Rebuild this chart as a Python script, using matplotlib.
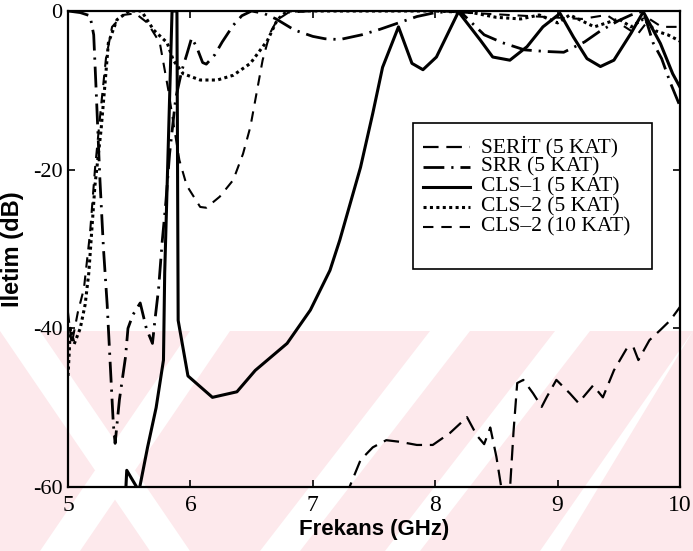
import numpy as np
import matplotlib
matplotlib.use("Agg")
from matplotlib import pyplot as plt
from matplotlib.patches import Rectangle, Polygon

# frequency (GHz) / transmission (dB) samples per structure
serit_f = [7.20, 7.30, 7.39, 7.49, 7.60, 7.71, 7.85, 7.98, 8.12, 8.26, 8.34, 8.40, 8.45,
           8.50, 8.56, 8.60, 8.62, 8.64, 8.67, 8.72, 8.80, 8.87, 8.91, 8.99, 9.10,
           9.17, 9.29, 9.37, 9.46, 9.57, 9.62, 9.66, 9.75, 9.84, 9.92, 10.0]
serit_db = [-64.0, -60.0, -56.6, -55.0, -54.1, -54.3, -54.7, -54.7, -53.2, -51.2, -53.5,
            -54.6, -52.5, -56.2, -62.0, -63.0, -58.0, -53.0, -46.9, -46.5, -48.2, -49.9,
            -48.7, -46.5, -48.2, -49.4, -47.2, -48.7, -45.3, -42.4, -42.4, -44.0, -41.5,
            -40.2, -39.0, -37.3]

srr_f = [5.00, 5.10, 5.18, 5.21, 5.23, 5.26, 5.29, 5.32, 5.35, 5.37, 5.385, 5.42, 5.47,
         5.49, 5.53, 5.59, 5.64, 5.69, 5.71, 5.74, 5.77, 5.80, 5.83, 5.88, 5.93, 5.97,
         6.01, 6.05, 6.10, 6.13, 6.20, 6.26, 6.35, 6.42, 6.50, 6.60, 6.70, 6.85, 7.00,
         7.10, 7.22, 7.40, 7.55, 7.70, 7.85, 8.00, 8.20, 8.30, 8.40, 8.55, 8.73, 8.90,
         9.05, 9.22, 9.35, 9.50, 9.60, 9.70, 9.78, 9.85, 9.92, 10.0]
srr_db = [0.0, -0.2, -0.6, -3.0, -10.0, -21.0, -30.0, -37.0, -46.0, -52.0, -54.5, -49.0,
          -43.6, -40.0, -38.3, -36.8, -40.0, -41.9, -39.0, -35.0, -29.0, -24.0, -18.0,
          -11.0, -7.5, -5.5, -3.4, -4.5, -6.5, -6.7, -5.5, -3.9, -1.8, -0.6, 0.0, -0.3,
          -1.0, -2.4, -3.2, -3.5, -3.6, -3.0, -2.3, -1.5, -0.7, -0.2, 0.0, -1.5, -3.0,
          -4.0, -4.9, -5.1, -5.2, -3.9, -2.5, -1.2, -0.5, 0.0, -4.0, -6.0, -9.0, -12.0]

cls1_f = [5.40, 5.47, 5.48, 5.58, 5.65, 5.72, 5.78, 5.79, 5.85, 5.89, 5.90, 5.98, 6.18,
          6.38, 6.53, 6.79, 6.98, 7.14, 7.22, 7.39, 7.49, 7.57, 7.70, 7.81, 7.90, 8.01,
          8.19, 8.37, 8.47, 8.61, 8.75, 8.88, 9.02, 9.13, 9.24, 9.35, 9.46, 9.60, 9.70,
          9.84, 9.94, 10.0]
cls1_db = [-64.0, -61.0, -57.9, -60.5, -55.0, -50.0, -44.0, -33.0, 0.0, 0.0, -39.0,
           -46.0, -48.7, -48.0, -45.3, -41.9, -37.7, -32.7, -28.9, -19.7, -12.9, -7.1,
           -2.0, -6.6, -7.4, -5.8, -0.1, -3.7, -5.8, -6.2, -4.5, -2.0, -0.3, -3.3, -6.0,
           -7.0, -6.2, -2.8, -0.1, -4.1, -7.9, -9.6]

cls2_f = [5.00, 5.02, 5.05, 5.10, 5.14, 5.17, 5.22, 5.27, 5.30, 5.33, 5.40, 5.50, 5.60,
          5.70, 5.81, 5.86, 5.94, 6.08, 6.22, 6.35, 6.49, 6.63, 6.71, 6.79, 7.00, 7.50,
          8.00, 8.30, 8.50, 8.70, 8.85, 9.00, 9.10, 9.30, 9.50, 9.60, 9.70, 9.80, 9.90,
          10.0]
cls2_db = [-46.0, -40.0, -42.0, -40.0, -37.0, -33.0, -22.0, -15.0, -9.6, -4.0, -1.1, 0.0,
           0.0, -2.4, -4.0, -6.2, -7.9, -8.7, -8.7, -8.1, -6.6, -3.7, -1.1, 0.0, 0.0, 0.0,
           0.0, -0.2, -0.8, -1.0, -0.5, -1.5, -0.5, -2.0, -1.0, -2.0, -1.0, -2.5, -3.0,
           -3.8]

cls2_10_f = [5.00, 5.03, 5.08, 5.13, 5.18, 5.22, 5.27, 5.31, 5.36, 5.45, 5.55, 5.65,
             5.75, 5.82, 5.87, 5.91, 5.97, 6.08, 6.13, 6.24, 6.35, 6.43, 6.49, 6.54,
             6.59, 6.65, 6.71, 6.80, 7.00, 8.00, 8.60, 9.20, 9.40, 9.55, 9.65, 9.75,
             9.85, 10.0]
cls2_10_db = [-38.0, -42.0, -38.0, -35.0, -28.0, -20.0, -12.0, -6.0, -2.0, -0.5, -0.3,
              -1.5, -4.0, -10.0, -15.0, -18.8, -22.0, -24.7, -24.8, -23.4, -21.3, -18.0,
              -14.6, -10.4, -6.2, -2.8, -1.1, -0.2, 0.0, 0.0, -0.5, -1.0, -0.5, -2.0,
              -3.0, -1.0, -2.0, -2.0]

labels = ['SER\u0130T (5 KAT)', 'SRR (5 KAT)', 'CLS\u20131 (5 KAT)',
          'CLS\u20132 (5 KAT)', 'CLS\u20132 (10 KAT)']
x_ticks = [5, 6, 7, 8, 9, 10]
y_ticks = [0, -20, -40, -60]

W, H = 693, 551
fig = plt.figure(figsize=(W / 100, H / 100), dpi=100)
fig.patch.set_facecolor('white')

# faint pink stripe pattern across the lower part of the page
bg = fig.add_axes([0, 0, 1, 1], zorder=-1)
bg.set_xlim(0, W)
bg.set_ylim(H, 0)
bg.axis('off')
bg.add_patch(Rectangle((0, 331), W, H - 331, facecolor='#fde9ec', edgecolor='none'))
for x0, x1, x2, x3 in [(0, 40, 190, 150), (190, 230, 80, 40), (430, 470, 300, 260),
                       (555, 590, 420, 385), (693, 693, 560, 540)]:
    bg.add_patch(Polygon([(x0, 331), (x1, 331), (x2, H), (x3, H)], closed=True,
                         facecolor='white', edgecolor='none'))

ax = fig.add_axes([68 / W, 1 - 487 / H, 612 / W, 476 / H])
ax.patch.set_alpha(0)

styles = [
    dict(color='black', lw=1.6, linestyle=(0, (7, 3.5))),
    dict(color='black', lw=2.0, linestyle=(0, (7.5, 2.5, 0.8, 2.5))),
    dict(color='black', lw=2.2, linestyle='-'),
    dict(color='black', lw=2.2, linestyle=(0, (1, 1.1))),
    dict(color='black', lw=1.5, linestyle=(0, (5, 3.8))),
]
series = [(serit_f, serit_db), (srr_f, srr_db), (cls1_f, cls1_db),
          (cls2_f, cls2_db), (cls2_10_f, cls2_10_db)]
for (f, db), st in zip(series, styles):
    ax.plot(f, db, **st)

ax.set_xlim(5, 10)
ax.set_ylim(-60, 0)
ax.set_xticks(x_ticks)
ax.set_yticks(y_ticks)
ax.set_xticklabels([str(t) for t in x_ticks], fontfamily='Liberation Serif', fontsize=17)
ax.set_yticklabels([str(t) for t in y_ticks], fontfamily='Liberation Serif', fontsize=16)
ax.tick_params(direction='in', length=5, width=1.2, top=True, right=True, pad=4)
ax.tick_params(axis='x', pad=6)
for sp in ax.spines.values():
    sp.set_linewidth(1.6)

ax.set_xlabel('Frekans (GHz)', fontfamily='Liberation Sans', fontweight='bold',
              fontsize=16, labelpad=2)
ax.set_ylabel('\u0130letim (dB)', fontfamily='Liberation Sans', fontweight='bold',
              fontsize=17, labelpad=6)

# legend box drawn by hand for tight MATLAB-like rows
lx0, lx1, ly0, ly1 = 413, 652, 123, 269
def to_ax(px, py):
    return (px - 68) / 612, (487 - py) / 476
bx, by = to_ax(lx0, ly1)
bx1, by1 = to_ax(lx1, ly0)
ax.add_patch(Rectangle((bx, by), bx1 - bx, by1 - by, transform=ax.transAxes,
                       facecolor='white', edgecolor='black', lw=1.2, zorder=5))
rows = [147, 167, 187, 207, 227]
for lab, st, ry in zip(labels, styles, rows):
    hx0, hy = to_ax(423, ry)
    hx1, _ = to_ax(470, ry)
    ax.plot([hx0, hx1], [hy, hy], transform=ax.transAxes, zorder=6, **st)
    tx, ty = to_ax(481, ry)
    ax.text(tx, ty, lab, transform=ax.transAxes, fontfamily='Liberation Serif',
            fontsize=15.5, va='center', ha='left', zorder=6)

fig.savefig('out.png', dpi=100)
